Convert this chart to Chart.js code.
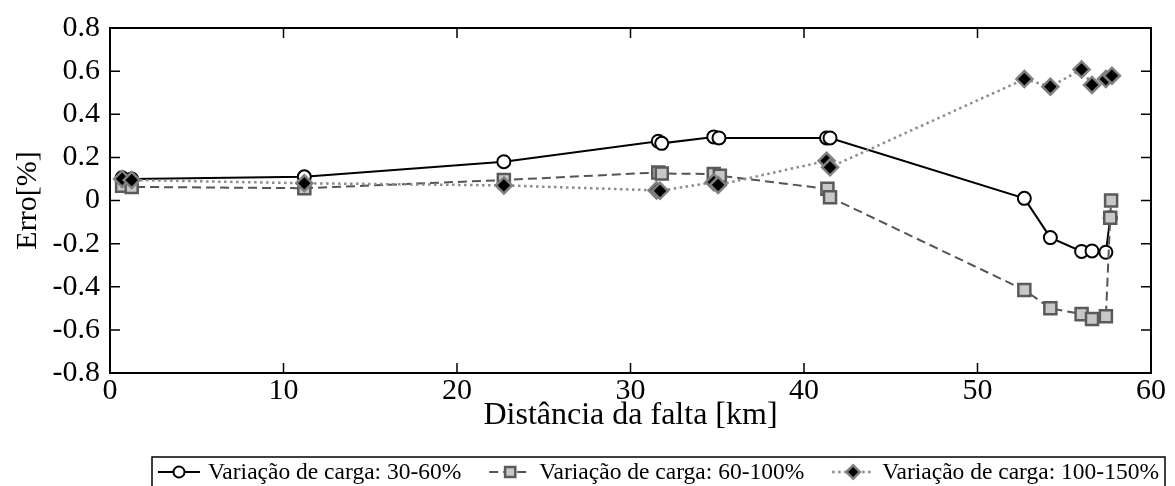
<!DOCTYPE html>
<html>
<head>
<meta charset="utf-8">
<script src="https://cdn.jsdelivr.net/npm/chart.js@4"></script>
<style>
  html, body { margin: 0; padding: 0; background: #fff; }
  #wrap { width: 1175px; height: 486px; }
</style>
</head>
<body>
<div id="wrap"><canvas id="erro-chart"></canvas></div>
<script>
// Distância da falta [km] e erro [%] para cada variação de carga
const distCirc = [0.7, 1.25, 11.2, 22.7, 31.6, 31.8, 34.8, 35.1, 41.3, 41.5, 52.7, 54.2, 56.0, 56.6, 57.4, 57.65];
const erroCirc = [0.105, 0.1, 0.11, 0.18, 0.275, 0.265, 0.295, 0.29, 0.29, 0.29, 0.01, -0.172, -0.236, -0.234, -0.24, -0.08];

const distQuad = [0.7, 1.25, 11.2, 22.7, 31.6, 31.8, 34.8, 35.15, 41.35, 41.5, 52.7, 54.2, 56.0, 56.6, 57.4, 57.65, 57.7];
const erroQuad = [0.068, 0.063, 0.057, 0.095, 0.13, 0.125, 0.123, 0.115, 0.054, 0.015, -0.415, -0.5, -0.527, -0.55, -0.537, -0.08, 0.0];

const distLos = [0.7, 1.25, 11.2, 22.7, 31.5, 31.7, 34.8, 35.05, 41.3, 41.5, 52.7, 54.2, 56.0, 56.6, 57.4, 57.75];
const erroLos = [0.1, 0.095, 0.08, 0.07, 0.047, 0.045, 0.085, 0.072, 0.184, 0.154, 0.563, 0.528, 0.608, 0.536, 0.563, 0.579];

const seriesNames = ['Variação de carga: 30-60%', 'Variação de carga: 60-100%', 'Variação de carga: 100-150%'];
const xTicks = [0, 10, 20, 30, 40, 50, 60];
const yTicks = [-0.8, -0.6, -0.4, -0.2, 0, 0.2, 0.4, 0.6, 0.8];

const serif = "'Liberation Serif', 'Times New Roman', serif";

let pts = function (xs, ys) {
  return xs.map(function (x, i) { return { x: x, y: ys[i] }; });
};

// box round the plot with inward ticks on all four sides
const boxTicks = {
  id: 'boxTicks',
  afterDatasetsDraw(chart) {
    const { ctx, chartArea: a, scales } = chart;
    const len = 10;
    ctx.save();
    ctx.strokeStyle = '#000';
    ctx.lineWidth = 1.5;
    ctx.beginPath();
    xTicks.forEach(function (v) {
      const px = scales.x.getPixelForValue(v);
      ctx.moveTo(px, a.bottom); ctx.lineTo(px, a.bottom - len);
      ctx.moveTo(px, a.top); ctx.lineTo(px, a.top + len);
    });
    yTicks.forEach(function (v) {
      const py = scales.y.getPixelForValue(v);
      ctx.moveTo(a.left, py); ctx.lineTo(a.left + len, py);
      ctx.moveTo(a.right, py); ctx.lineTo(a.right - len, py);
    });
    ctx.stroke();
    ctx.lineWidth = 2;
    ctx.strokeRect(a.left, a.top, a.right - a.left, a.bottom - a.top);
    ctx.restore();
  }
};

// horizontal legend in a box, line sample + marker + text
const boxLegend = {
  id: 'boxLegend',
  afterDraw(chart) {
    const ctx = chart.ctx;
    const left = 152, right = 1165, top = 457;
    const sample = 42, gapText = 8, pad = 6;
    const cy = top + 15;
    ctx.save();
    ctx.font = '23.5px ' + serif;
    const widths = seriesNames.map(function (n) { return sample + gapText + ctx.measureText(n).width; });
    const total = widths.reduce(function (s, w) { return s + w; }, 0);
    const gap = (right - left - 2 * pad - total) / (seriesNames.length - 1);

    ctx.lineWidth = 1.5;
    ctx.strokeStyle = '#000';
    ctx.strokeRect(left, top, right - left, 50);

    let x = left + pad;
    chart.data.datasets.forEach(function (ds, i) {
      ctx.save();
      ctx.strokeStyle = ds.borderColor;
      ctx.lineWidth = ds.borderWidth;
      ctx.setLineDash(ds.borderDash || []);
      ctx.beginPath();
      ctx.moveTo(x, cy); ctx.lineTo(x + sample, cy);
      ctx.stroke();
      ctx.setLineDash([]);
      ctx.fillStyle = ds.pointBackgroundColor;
      ctx.strokeStyle = ds.pointBorderColor;
      ctx.lineWidth = ds.pointBorderWidth;
      Chart.helpers.drawPoint(ctx, { pointStyle: ds.pointStyle, radius: ds.pointRadius * 0.85, borderWidth: ds.pointBorderWidth }, x + sample / 2, cy);
      ctx.restore();
      ctx.fillStyle = '#000';
      ctx.textBaseline = 'middle';
      ctx.fillText(seriesNames[i], x + sample + gapText, cy + 1);
      x += widths[i] + gap;
    });
    ctx.restore();
  }
};

new Chart(document.getElementById('erro-chart'), {
  type: 'line',
  data: {
    datasets: [
      {
        label: seriesNames[0],
        data: pts(distCirc, erroCirc),
        borderColor: '#000',
        borderWidth: 2,
        pointStyle: 'circle',
        pointRadius: 6.5,
        pointBackgroundColor: '#fff',
        pointBorderColor: '#000',
        pointBorderWidth: 2,
        order: 3
      },
      {
        label: seriesNames[1],
        data: pts(distQuad, erroQuad),
        borderColor: '#555',
        borderWidth: 2,
        borderDash: [9, 5],
        pointStyle: 'rect',
        pointRadius: 8.5,
        pointBackgroundColor: '#c8c8c8',
        pointBorderColor: '#5a5a5a',
        pointBorderWidth: 2.5,
        order: 2
      },
      {
        label: seriesNames[2],
        data: pts(distLos, erroLos),
        borderColor: '#8c8c8c',
        borderWidth: 2.5,
        borderDash: [2.5, 3.5],
        pointStyle: 'rectRot',
        pointRadius: 8,
        pointBackgroundColor: '#000',
        pointBorderColor: '#808080',
        pointBorderWidth: 2.5,
        order: 1
      }
    ]
  },
  options: {
    responsive: true,
    maintainAspectRatio: false,
    animation: false,
    layout: { padding: { left: 0, top: 24, right: 24, bottom: 51 } },
    plugins: {
      legend: { display: false },
      tooltip: { enabled: false }
    },
    scales: {
      x: {
        type: 'linear',
        min: 0,
        max: 60,
        afterBuildTicks: function (s) { s.ticks = xTicks.map(function (v) { return { value: v }; }); },
        afterFit: function (s) { s.height = 62; },
        grid: { display: false, drawTicks: false },
        border: { display: false },
        ticks: { color: '#000', padding: 0, font: { family: serif, size: 30 } },
        title: {
          display: true,
          text: 'Distância da falta [km]',
          color: '#000',
          padding: { top: 0, bottom: 0 },
          font: { family: serif, size: 32 }
        }
      },
      y: {
        min: -0.8,
        max: 0.8,
        afterBuildTicks: function (s) { s.ticks = yTicks.map(function (v) { return { value: v }; }); },
        afterFit: function (s) { s.width = 110; },
        grid: { display: false, drawTicks: false },
        border: { display: false },
        ticks: {
          color: '#000',
          padding: 10,
          font: { family: serif, size: 30 },
          callback: function (v) { return v === 0 ? '0' : v.toFixed(1); }
        },
        title: {
          display: true,
          text: 'Erro[%]',
          color: '#000',
          padding: { top: 10, bottom: 0 },
          font: { family: serif, size: 30 }
        }
      }
    }
  },
  plugins: [boxTicks, boxLegend]
});
</script>
</body>
</html>
